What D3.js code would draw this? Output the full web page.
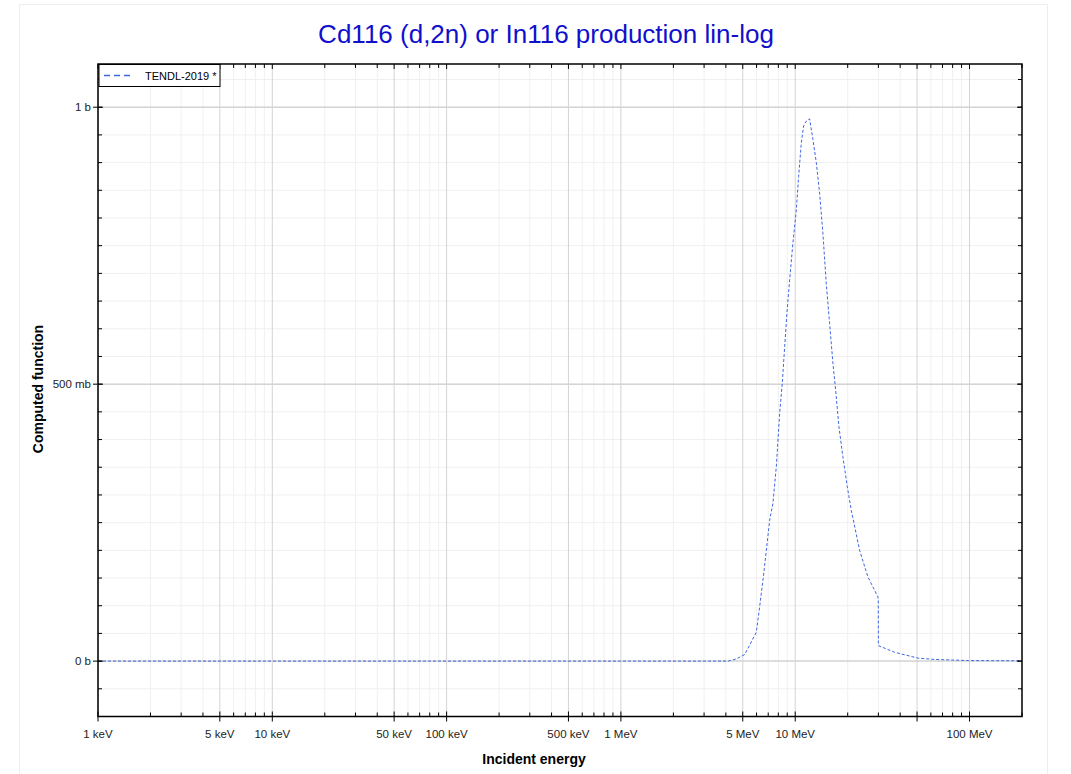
<!DOCTYPE html>
<html>
<head>
<meta charset="utf-8">
<script src="https://cdn.jsdelivr.net/npm/d3@7"></script>
<style>
  body { margin: 0; background: #fff; }
  svg text { font-family: "Liberation Sans", Arial, sans-serif; }
</style>
</head>
<body>
<svg id="chart" width="1071" height="774"></svg>
<script>
// energies in MeV, cross sections in barn
var energy = [0.001, 0.01, 0.1, 1, 3, 4.13, 4.6, 5.13, 5.98, 6.25, 6.53, 6.83, 7.13, 7.45,
  7.79, 8.14, 8.43, 8.7, 8.96, 9.29, 9.7, 10.15, 10.46, 10.84, 11.17, 11.58, 12.09,
  12.63, 13.21, 13.8, 14.41, 15.08, 15.75, 16.45, 17.05, 17.81, 18.77, 19.89, 20.98,
  23.41, 26.12, 29.8, 29.95, 30.0, 37.15, 40.5, 50.6, 63.2, 98.4, 200];
var xs = [0, 0, 0, 0, 0, 0, 0.004, 0.012, 0.052, 0.098, 0.146, 0.2, 0.254, 0.285,
  0.351, 0.447, 0.502, 0.568, 0.628, 0.688, 0.755, 0.815, 0.875, 0.936, 0.966, 0.975, 0.979,
  0.942, 0.9, 0.845, 0.773, 0.68, 0.61, 0.538, 0.49, 0.423, 0.369, 0.315, 0.272,
  0.2, 0.152, 0.116, 0.11, 0.028, 0.016, 0.013, 0.0054, 0.003, 0.001, 0.0005];

var xMajorTicks = [0.001, 0.005, 0.01, 0.05, 0.1, 0.5, 1, 5, 10, 50, 100];
var xMajorLabels = ["1 keV", "5 keV", "10 keV", "50 keV", "100 keV", "500 keV", "1 MeV", "5 MeV", "10 MeV", "", "100 MeV"];
var yMajorTicks = [0, 0.5, 1];
var yMajorLabels = ["0 b", "500 mb", "1 b"];

var svg = d3.select("#chart");
var mLeft = 98, mRight = 1022, mTop = 64, mBottom = 716.5;

// page frame
svg.append("rect")
  .attr("x", 19.5).attr("y", 4.5).attr("width", 1028).attr("height", 800)
  .attr("fill", "none").attr("stroke", "#eeeeee");

var x = d3.scaleLog().domain([0.001, 200]).range([mLeft, mRight]);
var y = d3.scaleLinear().domain([-0.1, 1.078]).range([mBottom, mTop]);

// minor ticks from the log scale (1..9 per decade) and every 50 mb
var xMinor = x.ticks().filter(function (d) { return xMajorTicks.indexOf(d) < 0 && d <= 200; });
var yMinor = d3.range(-2, 22).map(function (i) { return i * 0.05; })
  .filter(function (d) { return d > -0.1 && d < 1.078; });

var grid = svg.append("g");
grid.selectAll(".xmin").data(xMinor).enter().append("line")
  .attr("x1", function (d) { return x(d); }).attr("x2", function (d) { return x(d); })
  .attr("y1", mTop).attr("y2", mBottom)
  .attr("stroke", "#f0f0f0").attr("stroke-width", 1);
grid.selectAll(".ymin").data(yMinor).enter().append("line")
  .attr("x1", mLeft).attr("x2", mRight)
  .attr("y1", function (d) { return y(d); }).attr("y2", function (d) { return y(d); })
  .attr("stroke", "#f0f0f0").attr("stroke-width", 1);
grid.selectAll(".xmaj").data(xMajorTicks).enter().append("line")
  .attr("x1", function (d) { return x(d); }).attr("x2", function (d) { return x(d); })
  .attr("y1", mTop).attr("y2", mBottom)
  .attr("stroke", "#d4d4d4").attr("stroke-width", 1);
grid.selectAll(".ymaj").data(yMajorTicks).enter().append("line")
  .attr("x1", mLeft).attr("x2", mRight)
  .attr("y1", function (d) { return y(d); }).attr("y2", function (d) { return y(d); })
  .attr("stroke", "#d4d4d4").attr("stroke-width", 1.5);

// curve
var line = d3.line()
  .x(function (d, i) { return x(energy[i]); })
  .y(function (d) { return y(d); });
svg.append("path")
  .datum(xs)
  .attr("d", line)
  .attr("fill", "none")
  .attr("stroke", "#3f66e2")
  .attr("stroke-width", 1)
  .attr("stroke-dasharray", "3,2");

// frame
svg.append("rect")
  .attr("x", mLeft).attr("y", mTop).attr("width", mRight - mLeft).attr("height", mBottom - mTop)
  .attr("fill", "none").attr("stroke", "#000").attr("stroke-width", 1.5);

var ticks = svg.append("g").attr("stroke", "#000").attr("stroke-width", 1);
// bottom and top x ticks
xMinor.forEach(function (d) {
  ticks.append("line").attr("x1", x(d)).attr("x2", x(d)).attr("y1", mBottom).attr("y2", mBottom - 4);
  ticks.append("line").attr("x1", x(d)).attr("x2", x(d)).attr("y1", mTop).attr("y2", mTop + 4);
});
xMajorTicks.forEach(function (d) {
  ticks.append("line").attr("x1", x(d)).attr("x2", x(d)).attr("y1", mBottom + 5).attr("y2", mBottom - 5);
  ticks.append("line").attr("x1", x(d)).attr("x2", x(d)).attr("y1", mTop).attr("y2", mTop + 5);
});
// left and right y ticks
yMinor.forEach(function (d) {
  ticks.append("line").attr("x1", mLeft).attr("x2", mLeft + 4).attr("y1", y(d)).attr("y2", y(d));
  ticks.append("line").attr("x1", mRight).attr("x2", mRight - 4).attr("y1", y(d)).attr("y2", y(d));
});
yMajorTicks.forEach(function (d) {
  ticks.append("line").attr("x1", mLeft - 5).attr("x2", mLeft + 5).attr("y1", y(d)).attr("y2", y(d));
  ticks.append("line").attr("x1", mRight).attr("x2", mRight - 5).attr("y1", y(d)).attr("y2", y(d));
});

// tick labels
svg.selectAll(".xlab").data(xMajorTicks).enter().append("text")
  .attr("x", function (d) { return x(d); })
  .attr("y", mBottom + 21)
  .attr("text-anchor", "middle")
  .attr("font-size", 11.5)
  .attr("fill", "#222")
  .text(function (d, i) { return xMajorLabels[i]; });
svg.selectAll(".ylab").data(yMajorTicks).enter().append("text")
  .attr("x", mLeft - 7)
  .attr("y", function (d) { return y(d) + 4; })
  .attr("text-anchor", "end")
  .attr("font-size", 11.5)
  .attr("fill", "#222")
  .text(function (d, i) { return yMajorLabels[i]; });

// titles
svg.append("text")
  .attr("x", 546).attr("y", 43)
  .attr("text-anchor", "middle")
  .attr("font-size", 26)
  .attr("fill", "#1010cc")
  .text("Cd116 (d,2n) or In116 production lin-log");
svg.append("text")
  .attr("x", 534).attr("y", 764)
  .attr("text-anchor", "middle")
  .attr("font-size", 14).attr("font-weight", "bold")
  .text("Incident energy");
svg.append("text")
  .attr("transform", "translate(43,389) rotate(-90)")
  .attr("text-anchor", "middle")
  .attr("font-size", 14).attr("font-weight", "bold")
  .text("Computed function");

// legend
var legend = svg.append("g");
legend.append("rect")
  .attr("x", 99).attr("y", 64.5).attr("width", 121).attr("height", 22)
  .attr("fill", "#fff").attr("stroke", "#000").attr("stroke-width", 1);
legend.append("line")
  .attr("x1", 104).attr("x2", 131).attr("y1", 75.5).attr("y2", 75.5)
  .attr("stroke", "#3f66e2").attr("stroke-width", 1.5).attr("stroke-dasharray", "6,4");
legend.append("text")
  .attr("x", 145).attr("y", 79.5)
  .attr("font-size", 11)
  .text("TENDL-2019 *");
</script>
</body>
</html>
